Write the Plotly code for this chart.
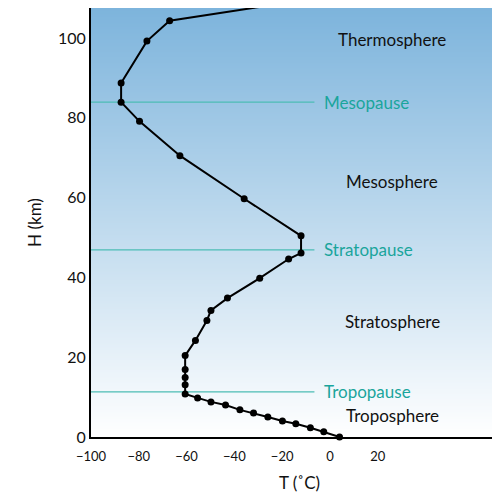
import plotly.graph_objects as go
import numpy as np

temp = [4, -2.6, -8.2, -14.3, -19.9, -26, -32, -37.7, -43.7, -49.8, -55.4, -60.6,
        -60.6, -60.6, -60.6, -60.6, -56.3, -51.5, -49.8, -42.9, -29.4, -17.3, -12.1,
        -12.1, -35.9, -62.8, -79.7, -87.4, -87.4, -76.6, -67.1, -18.2]
height = [0, 1.3, 2.3, 3.3, 4, 5, 6, 6.8, 8, 8.8, 9.8, 10.8,
          13.1, 14.9, 16.9, 20.4, 24.2, 29.2, 31.7, 34.8, 39.8, 44.6, 46.1,
          50.4, 59.7, 70.5, 79.1, 83.9, 88.7, 99.2, 104.3, 108.8]

pauses = ["Mesopause", "Stratopause", "Tropopause"]
pause_h = [83.9, 46.9, 11.3]
layers = ["Thermosphere", "Mesosphere", "Stratosphere", "Troposphere"]
layer_h = [99.7, 64, 29, 5.3]

xmin, xmax = -100, 74.5
ymin, ymax = 0, 107.5

fig = go.Figure()

# gradient background
gy = np.linspace(ymin, ymax, 50)
fig.add_trace(go.Heatmap(x=[xmin, xmax], y=gy, z=[[v, v] for v in gy],
                         colorscale=[[0, "#ffffff"], [1, "#7db4dc"]],
                         showscale=False, hoverinfo="skip", zsmooth="best"))

for name, h in zip(pauses, pause_h):
    fig.add_trace(go.Scatter(x=[xmin, -6.5], y=[h, h], mode="lines",
                             line=dict(color="#4dbdb5", width=1.3), showlegend=False))
    fig.add_annotation(x=-3.5, y=h, text=name, showarrow=False, xanchor="left",
                       font=dict(color="#1aa59c", size=17))

for name, h in zip(layers, layer_h):
    fig.add_annotation(x=26, y=h, text=name, showarrow=False, xanchor="center",
                       font=dict(color="#111111", size=17))

fig.add_trace(go.Scatter(x=temp, y=height, mode="lines+markers", cliponaxis=False,
                         line=dict(color="black", width=2),
                         marker=dict(color="black", size=7), showlegend=False))

fig.update_xaxes(range=[xmin, xmax], tickvals=[-100, -80, -60, -40, -20, 0, 20],
                 showgrid=False, zeroline=False, showline=True, linecolor="black",
                 linewidth=2, title=dict(text="T (˚C)", font=dict(size=17)),
                 tickfont=dict(size=13), ticklabelstandoff=6)
fig.update_yaxes(range=[ymin, ymax], tickvals=[0, 20, 40, 60, 80, 100],
                 showgrid=False, zeroline=False, showline=True, linecolor="black",
                 linewidth=2, title=dict(text="H (km)", font=dict(size=17), standoff=12),
                 tickfont=dict(size=16))

fig.update_layout(width=500, height=500, margin=dict(l=83, r=0, t=0, b=71),
                  plot_bgcolor="white", paper_bgcolor="white",
                  font=dict(family="Lato", color="#111111"))

fig.write_html("out.html")
